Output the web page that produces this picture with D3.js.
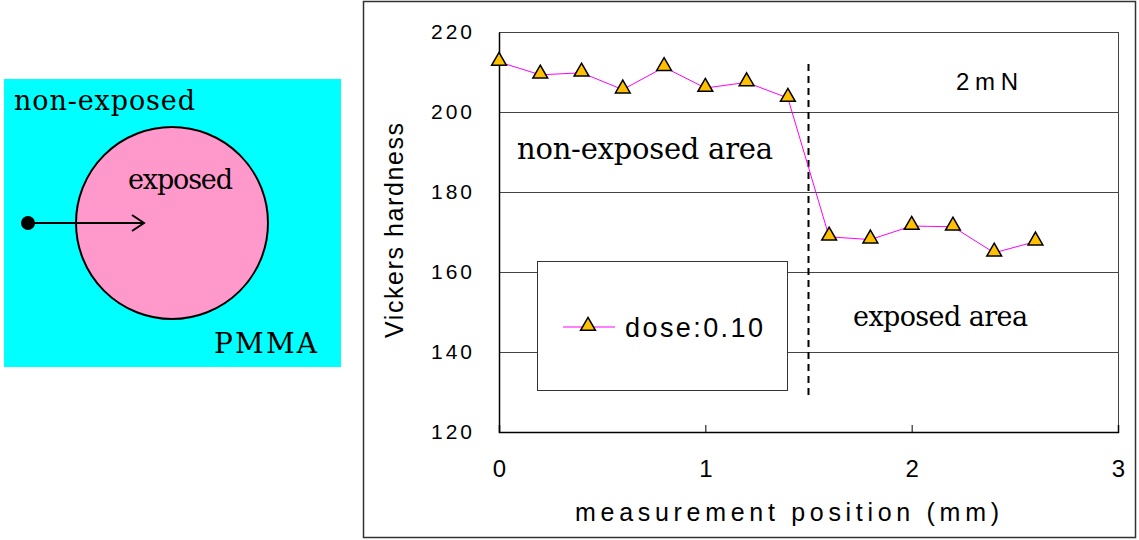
<!DOCTYPE html>
<html>
<head>
<meta charset="utf-8">
<script src="https://cdn.jsdelivr.net/npm/d3@7"></script>
<style>
  body { margin: 0; background: #fff; }
  svg { display: block; }
  .serif { font-family: "DejaVu Serif", serif; fill: #000; }
  .sans { font-family: "Liberation Sans", "DejaVu Sans", sans-serif; fill: #000; }
</style>
</head>
<body>
<div id="chart"></div>
<script>
// measurement positions (mm) and Vickers hardness values
var positions = [0, 0.2, 0.4, 0.6, 0.8, 1.0, 1.2, 1.4, 1.6, 1.8, 2.0, 2.2, 2.4, 2.6];
var hardness = [212.5, 209.3, 209.8, 205.6, 211.2, 206.0, 207.4, 203.5, 168.8, 168.1, 171.5, 171.3, 164.8, 167.6];
var yTicks = [120, 140, 160, 180, 200, 220];
var xTicks = [0, 1, 2, 3];
var boundary = 1.5;
var seriesName = "dose:0.10";

var svgWidth = 1139;
var svgHeight = 540;

var svg = d3.select("#chart")
  .append("svg")
  .attr("width", svgWidth)
  .attr("height", svgHeight);

// ---- left sketch: sample with exposed circle ----
var sketch = svg.append("g");

sketch.append("rect")
  .attr("x", 4).attr("y", 79)
  .attr("width", 337).attr("height", 288)
  .attr("fill", "#00ffff");

sketch.append("circle")
  .attr("cx", 172).attr("cy", 223).attr("r", 96)
  .attr("fill", "#ff99cc")
  .attr("stroke", "#000").attr("stroke-width", 2);

sketch.append("line")
  .attr("x1", 28).attr("y1", 223).attr("x2", 143).attr("y2", 223)
  .attr("stroke", "#000").attr("stroke-width", 2);

sketch.append("path")
  .attr("d", "M132,215 L144,223 L132,231")
  .attr("fill", "none").attr("stroke", "#000").attr("stroke-width", 2);

sketch.append("circle")
  .attr("cx", 28).attr("cy", 223).attr("r", 7)
  .attr("fill", "#000");

sketch.append("text").attr("class", "serif")
  .attr("x", 14).attr("y", 110)
  .attr("font-size", 27).attr("textLength", 181)
  .text("non-exposed");

sketch.append("text").attr("class", "serif")
  .attr("x", 128).attr("y", 189)
  .attr("font-size", 27).attr("textLength", 105)
  .text("exposed");

sketch.append("text").attr("class", "serif")
  .attr("x", 214).attr("y", 353)
  .attr("font-size", 28).attr("textLength", 103)
  .text("PMMA");

// ---- chart ----
svg.append("rect")
  .attr("x", 363.5).attr("y", 1.5)
  .attr("width", 772).attr("height", 536)
  .attr("fill", "#fff")
  .attr("stroke", "#333").attr("stroke-width", 1.5);

var plotLeft = 499, plotRight = 1118, plotTop = 32, plotBottom = 432;

var x = d3.scaleLinear().domain([0, 3]).range([plotLeft, plotRight]);
var y = d3.scaleLinear().domain([120, 220]).range([plotBottom, plotTop]);

var chartGroup = svg.append("g");

// gridlines
chartGroup.selectAll(".grid")
  .data(yTicks.filter(d => d > 120 && d < 220))
  .enter()
  .append("line")
  .attr("x1", plotLeft).attr("x2", plotRight)
  .attr("y1", d => y(d) + 0.5).attr("y2", d => y(d) + 0.5)
  .attr("stroke", "#444").attr("stroke-width", 1);

// plot frame
chartGroup.append("rect")
  .attr("x", plotLeft + 0.5).attr("y", plotTop + 0.5)
  .attr("width", plotRight - plotLeft).attr("height", plotBottom - plotTop)
  .attr("fill", "none").attr("stroke", "#444").attr("stroke-width", 1);

// axes
var bottomAxis = d3.axisBottom(x).tickValues(xTicks).tickSize(-7).tickFormat(d3.format("d"));
var leftAxis = d3.axisLeft(y).tickValues(yTicks).tickSize(0).tickFormat(d3.format("d"));

var xAxis = chartGroup.append("g")
  .attr("transform", `translate(0, ${plotBottom})`)
  .call(bottomAxis);
xAxis.select(".domain").attr("stroke", "#000").attr("stroke-width", 1.5);
xAxis.selectAll(".tick line").attr("stroke", "#000");
xAxis.selectAll("text")
  .attr("class", "sans")
  .attr("font-size", 24)
  .attr("y", 28);

var yAxis = chartGroup.append("g")
  .attr("transform", `translate(${plotLeft}, 0)`)
  .call(leftAxis);
yAxis.select(".domain").attr("stroke", "#000").attr("stroke-width", 1.5);
yAxis.selectAll("text")
  .attr("class", "sans")
  .attr("font-size", 21)
  .attr("x", -24)
  .attr("letter-spacing", 3);

// axis titles
chartGroup.append("text").attr("class", "sans")
  .attr("x", 575).attr("y", 521)
  .attr("font-size", 25)
  .attr("textLength", 424)
  .text("measurement position (mm)");

chartGroup.append("text").attr("class", "sans")
  .attr("transform", "rotate(-90)")
  .attr("x", -338).attr("y", 403)
  .attr("font-size", 25)
  .attr("textLength", 215)
  .text("Vickers hardness");

// boundary dashed line
chartGroup.append("line")
  .attr("x1", x(boundary)).attr("x2", x(boundary))
  .attr("y1", 64).attr("y2", 395)
  .attr("stroke", "#000").attr("stroke-width", 2)
  .attr("stroke-dasharray", "7,5");

// area labels
chartGroup.append("text").attr("class", "serif")
  .attr("x", 517).attr("y", 159)
  .attr("font-size", 29).attr("textLength", 256)
  .text("non-exposed area");

chartGroup.append("text").attr("class", "serif")
  .attr("x", 853).attr("y", 326)
  .attr("font-size", 27).attr("textLength", 175)
  .text("exposed area");

chartGroup.append("text").attr("class", "sans")
  .attr("x", 956).attr("y", 90)
  .attr("font-size", 24).attr("textLength", 62)
  .text("2mN");

// data line
var points = positions.map((p, i) => ({ x: p, y: hardness[i] }));

var line = d3.line().x(d => x(d.x)).y(d => y(d.y));

chartGroup.append("path")
  .datum(points)
  .attr("d", line)
  .attr("fill", "none")
  .attr("stroke", "#ff00ff")
  .attr("stroke-width", 1);

var tri = d3.symbol().type(d3.symbolTriangle).size(95);

chartGroup.selectAll(".marker")
  .data(points)
  .enter()
  .append("path")
  .attr("d", tri)
  .attr("transform", d => `translate(${x(d.x)}, ${y(d.y) - 1})`)
  .attr("fill", "#ffc000")
  .attr("stroke", "#000")
  .attr("stroke-width", 1.5);

// legend
var legend = chartGroup.append("g");
legend.append("rect")
  .attr("x", 537.5).attr("y", 261.5)
  .attr("width", 250).attr("height", 129)
  .attr("fill", "#fff")
  .attr("stroke", "#333").attr("stroke-width", 1);
legend.append("line")
  .attr("x1", 563).attr("x2", 615).attr("y1", 327).attr("y2", 327)
  .attr("stroke", "#ff00ff").attr("stroke-width", 1);
legend.append("path")
  .attr("d", tri)
  .attr("transform", "translate(588, 326)")
  .attr("fill", "#ffc000")
  .attr("stroke", "#000")
  .attr("stroke-width", 1.5);
legend.append("text").attr("class", "sans")
  .attr("x", 625).attr("y", 337)
  .attr("font-size", 27).attr("textLength", 138)
  .text(seriesName);
</script>
</body>
</html>
